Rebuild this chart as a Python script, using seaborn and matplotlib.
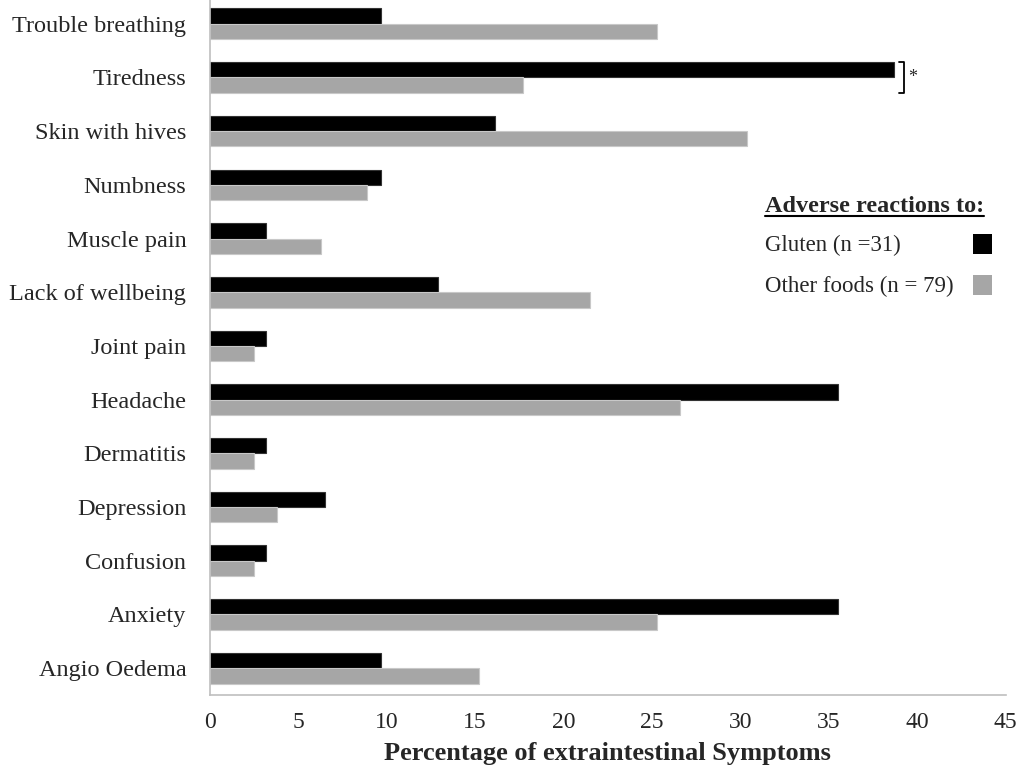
import numpy as np
import pandas as pd
import matplotlib
matplotlib.use('Agg')
import matplotlib.pyplot as plt
import seaborn as sns
from matplotlib.patches import Rectangle
from matplotlib.lines import Line2D

# symptoms, top to bottom
symptoms = ['Trouble breathing', 'Tiredness', 'Skin with hives', 'Numbness',
            'Muscle pain', 'Lack of wellbeing', 'Joint pain', 'Headache',
            'Dermatitis', 'Depression', 'Confusion', 'Anxiety', 'Angio Oedema']

# percentages
gluten = [9.7, 38.7, 16.1, 9.7, 3.2, 12.9, 3.2, 35.5, 3.2, 6.5, 3.2, 35.5, 9.7]
other_foods = [25.3, 17.7, 30.4, 8.9, 6.3, 21.5, 2.5, 26.6, 2.5, 3.8, 2.5, 25.3, 15.2]

groups = ['Gluten (n =31)', 'Other foods (n = 79)']
colors = ['#000000', '#a6a6a6']

df = pd.DataFrame({
    'Symptom': symptoms * 2,
    'Percent': gluten + other_foods,
    'Group': [groups[0]] * len(symptoms) + [groups[1]] * len(symptoms),
})

sns.set_style('white')
plt.rcParams['font.family'] = ['Liberation Serif', 'DejaVu Serif']

fig = plt.figure(figsize=(10.24, 7.74), dpi=100)
ax = fig.add_axes([0.205, 0.102, 0.777, 0.902])

sns.barplot(data=df, y='Symptom', x='Percent', hue='Group', order=symptoms,
            hue_order=groups, palette=colors, orient='h', width=0.57,
            errorbar=None, ax=ax, legend=False, linewidth=0.8)
for bar_group, edge in zip(ax.containers, ['#333333', '#c8c8c8']):
    for b in bar_group:
        b.set_edgecolor(edge)

ax.set_xlim(0, 45)
ax.set_xticks(np.arange(0, 46, 5))
ax.set_ylim(len(symptoms) - 0.5, -0.5)
ax.set_ylabel('')
ax.set_xlabel('Percentage of extraintestinal Symptoms', fontsize=19,
              fontweight='bold', labelpad=7)

ax.tick_params(axis='x', labelsize=17, length=5, width=1, color='#bfbfbf',
               direction='out', pad=7)
ax.tick_params(axis='y', which='major', labelsize=17.5, length=0, pad=17)
ax.set_yticks(np.arange(len(symptoms)) + 0.5, minor=True)
ax.tick_params(axis='y', which='minor', length=6, width=1, color='#bfbfbf',
               direction='out')

sns.despine(ax=ax)
for s in ['left', 'bottom']:
    ax.spines[s].set_color('#bfbfbf')
    ax.spines[s].set_linewidth(1.2)

# significance bracket next to Tiredness
i = symptoms.index('Tiredness')
bx = gluten[i] + 0.55
ax.plot([bx - 0.3, bx, bx, bx - 0.3], [i - 0.29, i - 0.29, i + 0.29, i + 0.29],
        color='black', lw=1.3, clip_on=False)
ax.text(bx + 0.25, i, '*', fontsize=13, va='center', ha='left')

# legend drawn by hand
title = fig.text(0.747, 0.733, 'Adverse reactions to:', fontsize=17.5,
                 fontweight='bold', ha='left', va='center')
fig.canvas.draw()
bb = title.get_window_extent().transformed(fig.transFigure.inverted())
fig.add_artist(Line2D([bb.x0, bb.x1], [bb.y0 + 0.001, bb.y0 + 0.001],
                      color='black', lw=1.5, transform=fig.transFigure))

rows_y = [0.683, 0.630]
for lab, col, yy in zip(groups, colors, rows_y):
    fig.text(0.747, yy, lab, fontsize=16.5, ha='left', va='center')
    fig.add_artist(Rectangle((0.950, yy - 0.011), 0.019, 0.026,
                             facecolor=col, edgecolor='none',
                             transform=fig.transFigure))

fig.savefig('out.png', dpi=100)
